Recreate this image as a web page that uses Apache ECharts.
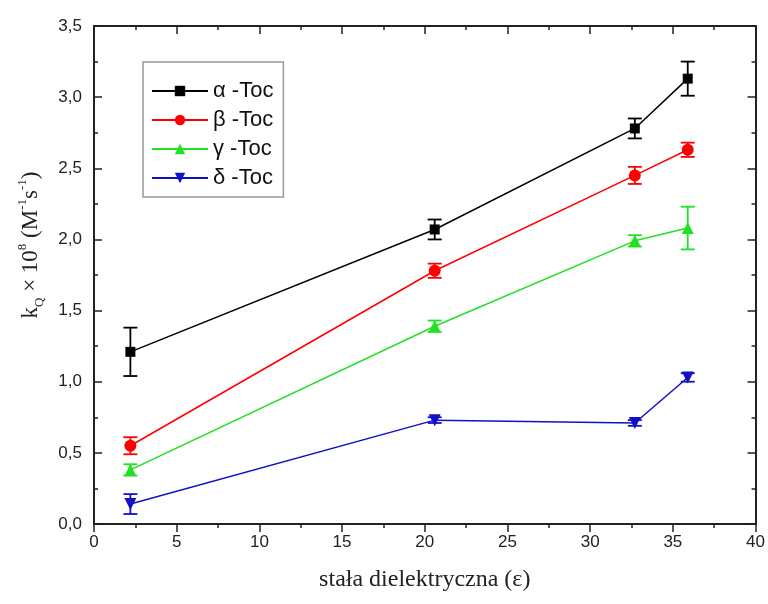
<!DOCTYPE html>
<html>
<head>
<meta charset="utf-8">
<script src="https://cdn.jsdelivr.net/npm/echarts@6/dist/echarts.min.js"></script>
<style>
html, body { margin: 0; padding: 0; background: #fff; }
#main { width: 768px; height: 604px; }
</style>
</head>
<body>
<div id="main"></div>
<script>
// stała dielektryczna rozpuszczalników
var eps = [2.2, 20.6, 32.7, 35.9];

// kQ x 10^8 oraz błędy
var alphaVal = [1.21, 2.07, 2.78, 3.13];
var alphaErr = [0.17, 0.07, 0.07, 0.12];
var betaVal = [0.55, 1.78, 2.45, 2.63];
var betaErr = [0.06, 0.05, 0.06, 0.05];
var gammaVal = [0.38, 1.39, 1.99, 2.08];
var gammaErr = [0.04, 0.04, 0.04, 0.15];
var deltaVal = [0.14, 0.73, 0.71, 1.03];
var deltaErr = [0.07, 0.02, 0.02, 0.03];

var names = ['α -Toc', 'β -Toc', 'γ -Toc', 'δ -Toc'];
var colors = ['#000000', '#ff0000', '#22e022', '#1010c8'];
var symbols = ['rect', 'circle', 'triangle', 'triangle'];
var rotates = [0, 0, 0, 180];
var vals = [alphaVal, betaVal, gammaVal, deltaVal];
var errs = [alphaErr, betaErr, gammaErr, deltaErr];

var myChart = echarts.init(document.getElementById('main'));

function pairs(v) {
    return eps.map(function (x, i) { return [x, v[i]]; });
}

function errData(v, e) {
    return eps.map(function (x, i) { return [x, v[i] - e[i], v[i] + e[i]]; });
}

function errRender(color) {
    return function (params, api) {
        var lo = api.coord([api.value(0), api.value(1)]);
        var hi = api.coord([api.value(0), api.value(2)]);
        var w = 7;
        var st = { stroke: color, lineWidth: 1.8 };
        return {
            type: 'group',
            children: [
                { type: 'line', shape: { x1: lo[0], y1: lo[1], x2: hi[0], y2: hi[1] }, style: st },
                { type: 'line', shape: { x1: lo[0] - w, y1: lo[1], x2: lo[0] + w, y2: lo[1] }, style: st },
                { type: 'line', shape: { x1: hi[0] - w, y1: hi[1], x2: hi[0] + w, y2: hi[1] }, style: st }
            ]
        };
    };
}

var series = [];
names.forEach(function (n, k) {
    series.push({
        name: n,
        type: 'line',
        data: pairs(vals[k]),
        symbol: symbols[k],
        symbolRotate: rotates[k],
        symbolSize: k === 0 ? 10 : 12,
        z: 3,
        lineStyle: { color: colors[k], width: 1.5 },
        itemStyle: { color: colors[k] }
    });
    series.push({
        type: 'custom',
        data: errData(vals[k], errs[k]),
        renderItem: errRender(colors[k]),
        encode: { x: 0, y: [1, 2] },
        z: 2,
        silent: true
    });
});

var axisLine = { show: true, onZero: false, lineStyle: { color: '#222', width: 2 } };
var labelFont = { color: '#222', fontFamily: 'Liberation Sans', fontSize: 17 };
var majTick = { color: '#222', width: 1.5 };

option = {
    backgroundColor: '#fff',
    animation: false,
    grid: { left: 94, right: 12, top: 26, bottom: 80 },
    legend: {
        orient: 'vertical',
        left: 143,
        top: 62,
        width: 143,
        padding: [18, 10, 8, 8],
        itemGap: 7,
        itemWidth: 56,
        itemHeight: 13,
        borderColor: '#999',
        borderWidth: 1.5,
        textStyle: { fontFamily: 'Liberation Sans', fontSize: 22, color: '#111' },
        data: names
    },
    xAxis: [{
        type: 'value',
        min: 0, max: 40, interval: 5,
        name: 'stała dielektryczna (ε)',
        nameLocation: 'middle',
        nameGap: 44,
        nameTextStyle: { fontFamily: 'Liberation Serif', fontSize: 24, color: '#222' },
        axisLine: axisLine,
        axisTick: { show: true, length: 8, lineStyle: majTick },
        minorTick: { show: true, splitNumber: 2, length: 4, lineStyle: majTick },
        axisLabel: Object.assign({ margin: 10 }, labelFont),
        splitLine: { show: false }
    }, {
        type: 'value',
        position: 'top',
        min: 0, max: 40, interval: 5,
        axisLine: axisLine,
        axisTick: { show: true, inside: true, length: 8, lineStyle: majTick },
        minorTick: { show: true, splitNumber: 2, length: 4, lineStyle: majTick },
        axisLabel: { show: false },
        splitLine: { show: false }
    }],
    yAxis: [{
        type: 'value',
        min: 0, max: 3.5, interval: 0.5,
        name: '{t|k}{sub|Q}{t| × 10}{sup|8}{t| (M}{sup|-1}{t|s}{sup|-1}{t|)}',
        nameLocation: 'middle',
        nameGap: 48,
        nameTextStyle: {
            padding: [0, 0, 0, 60],
            rich: {
                t: { fontFamily: 'Liberation Serif', fontSize: 23, color: '#222', lineHeight: 30 },
                sub: { fontFamily: 'Liberation Serif', fontSize: 13, color: '#222', verticalAlign: 'bottom', lineHeight: 30 },
                sup: { fontFamily: 'Liberation Serif', fontSize: 13, color: '#222', verticalAlign: 'top', lineHeight: 30 }
            }
        },
        axisLine: axisLine,
        axisTick: { show: true, inside: true, length: 8, lineStyle: majTick },
        minorTick: { show: true, splitNumber: 2, length: 4, lineStyle: majTick },
        axisLabel: Object.assign({
            margin: 12,
            formatter: function (v) { return v.toFixed(1).replace('.', ','); }
        }, labelFont),
        splitLine: { show: false }
    }, {
        type: 'value',
        position: 'right',
        min: 0, max: 3.5, interval: 0.5,
        axisLine: axisLine,
        axisTick: { show: true, inside: true, length: 8, lineStyle: majTick },
        minorTick: { show: true, splitNumber: 2, length: 4, lineStyle: majTick },
        axisLabel: { show: false },
        splitLine: { show: false }
    }],
    series: series
};

myChart.setOption(option);
</script>
</body>
</html>
